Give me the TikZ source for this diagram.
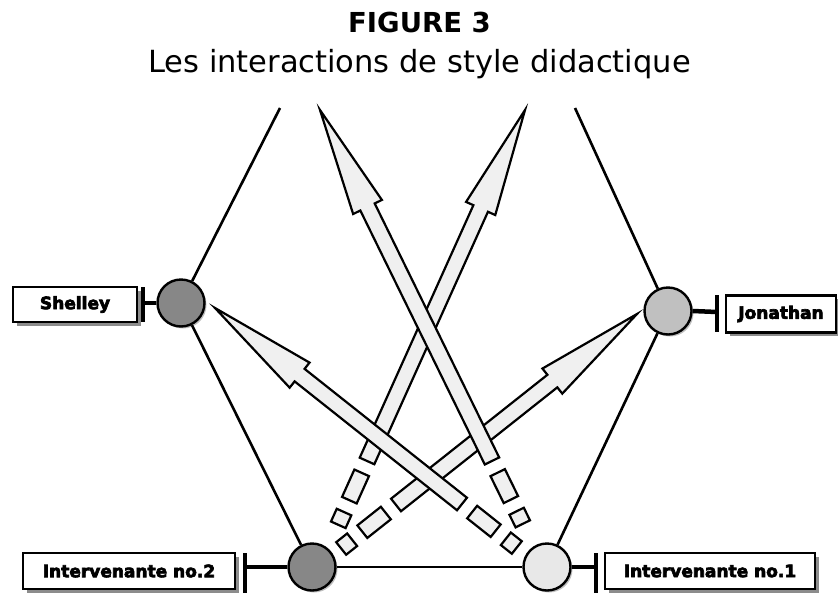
\documentclass[tikz,border=0pt]{standalone}
\usepackage{fontspec}
\setmainfont{DejaVu Sans}
\newfontfamily\lblfont{DejaVu Sans}[BoldFont={DejaVu Sans Bold}, BoldFeatures={FakeBold=4}]
\usetikzlibrary{calc,shadows}

\definecolor{arrowfill}{HTML}{F0F0F0}
\definecolor{darkdisc}{HTML}{878787}
\definecolor{middisc}{HTML}{C0C0C0}
\definecolor{paledisc}{HTML}{E8E8E8}

\tikzset{
  hexline/.style={line width=2.6pt, draw=black},
  person/.style={circle, draw=black, line width=2.4pt, minimum size=47pt, inner sep=0pt,
    drop shadow={shadow xshift=2pt, shadow yshift=-2pt, fill=black, opacity=0.25}},
  namebox/.style={draw=black, line width=2.4pt, fill=white, inner sep=0pt,
    font=\fontsize{17}{19}\selectfont\lblfont\bfseries,
    drop shadow={shadow xshift=3.5pt, shadow yshift=-3.5pt, fill=black!45, opacity=1}},
  stub/.style={line width=4.5pt, draw=black},
  barline/.style={line width=3.5pt, draw=black},
  arrowbody/.style={draw=black, line width=2.2pt, fill=arrowfill, line join=miter},
}

% hollow arrow from tip #1 back to shaft end #2, followed by a dash and a small block
\newcommand\fatarrow[2]{%
  \pgfmathanglebetweenpoints{\pgfpointanchor{#1}{center}}{\pgfpointanchor{#2}{center}}%
  \let\arrang\pgfmathresult
  \pgfpointdiff{\pgfpointanchor{#1}{center}}{\pgfpointanchor{#2}{center}}%
  \pgfgetlastxy{\arrdx}{\arrdy}%
  \pgfmathveclen{\arrdx}{\arrdy}\let\arrlen\pgfmathresult
  \begin{scope}[shift={(#1)}, rotate=\arrang, x=1pt, y=1pt]
    \filldraw[arrowbody] (0,0) -- (108,16) -- (108,8) -- (\arrlen,8) -- (\arrlen,-8)
      -- (108,-8) -- (108,-16) -- cycle;
    \filldraw[arrowbody] (\arrlen+13,-8) rectangle ++(30,16);
    \filldraw[arrowbody] (\arrlen+56,-8) rectangle ++(14,16);
  \end{scope}}

\begin{document}
\begin{tikzpicture}[x=1pt,y=-1pt]
\useasboundingbox (0,0) rectangle (838,592);
\fill[white] (0,0) rectangle (838,592);

% headings
\node[anchor=base, font=\fontsize{27.5}{30}\selectfont\bfseries] (title) at (419.5,32) {FIGURE 3};
\node[anchor=base, font=\fontsize{30.5}{34}\selectfont] (subtitle) at (419.5,72) {Les interactions de style didactique};

% open ends of the outer frame
\coordinate (topL) at (280,108);
\coordinate (topR) at (575,108);

% participants
\node[person, fill=darkdisc] (shelley) at (181,303) {};
\node[person, fill=middisc] (jonathan) at (668,311) {};
\node[person, fill=darkdisc] (int2) at (312,567) {};
\node[person, fill=paledisc] (int1) at (547,567) {};

% frame
\draw[hexline] (topL) -- (shelley);
\draw[hexline] (shelley) -- (int2);
\draw[hexline] (int2) -- (int1);
\draw[hexline] (int1) -- (jonathan);
\draw[hexline] (jonathan) -- (topR);

% name labels
\node[namebox, minimum width=124pt, minimum height=35pt] (shelleybox) at (75,304.5) {Shelley};
\node[namebox, minimum width=110pt, minimum height=37pt] (jonathanbox) at (781,314) {Jonathan};
\node[namebox, minimum width=212pt, minimum height=36pt] (int2box) at (129,571) {Intervenante no.2};
\node[namebox, minimum width=210pt, minimum height=36pt] (int1box) at (710,571) {Intervenante no.1};

% T-shaped links between discs and labels
\coordinate (shelleybar) at (143,303);
\coordinate (jonathanbar) at (717,312);
\coordinate (int2bar) at (245,567);
\coordinate (int1bar) at (596,567);
\draw[stub] (shelley.west) -- (shelleybar);
\draw[stub] (jonathan.east) -- (jonathanbar);
\draw[stub] (int2.west) -- (int2bar);
\draw[stub] (int1.east) -- (int1bar);
\draw[barline] ($(shelleybar)+(0,-16)$) -- ($(shelleybar)+(0,19)$);
\draw[barline] ($(jonathanbar)+(0,-17)$) -- ($(jonathanbar)+(0,20)$);
\draw[barline] ($(int2bar)+(0,-14)$) -- ($(int2bar)+(0,26)$);
\draw[barline] ($(int1bar)+(0,-14)$) -- ($(int1bar)+(0,26)$);

% interaction arrows
\coordinate (tipA) at (320,110); \coordinate (endA) at (492,461);
\coordinate (tipB) at (525,110); \coordinate (endB) at (367,461);
\coordinate (tipC) at (215,308); \coordinate (endC) at (462,504);
\coordinate (tipD) at (637,314); \coordinate (endD) at (396,505);
\fatarrow{tipD}{endD}
\fatarrow{tipB}{endB}
\fatarrow{tipC}{endC}
\fatarrow{tipA}{endA}
\end{tikzpicture}
\end{document}
